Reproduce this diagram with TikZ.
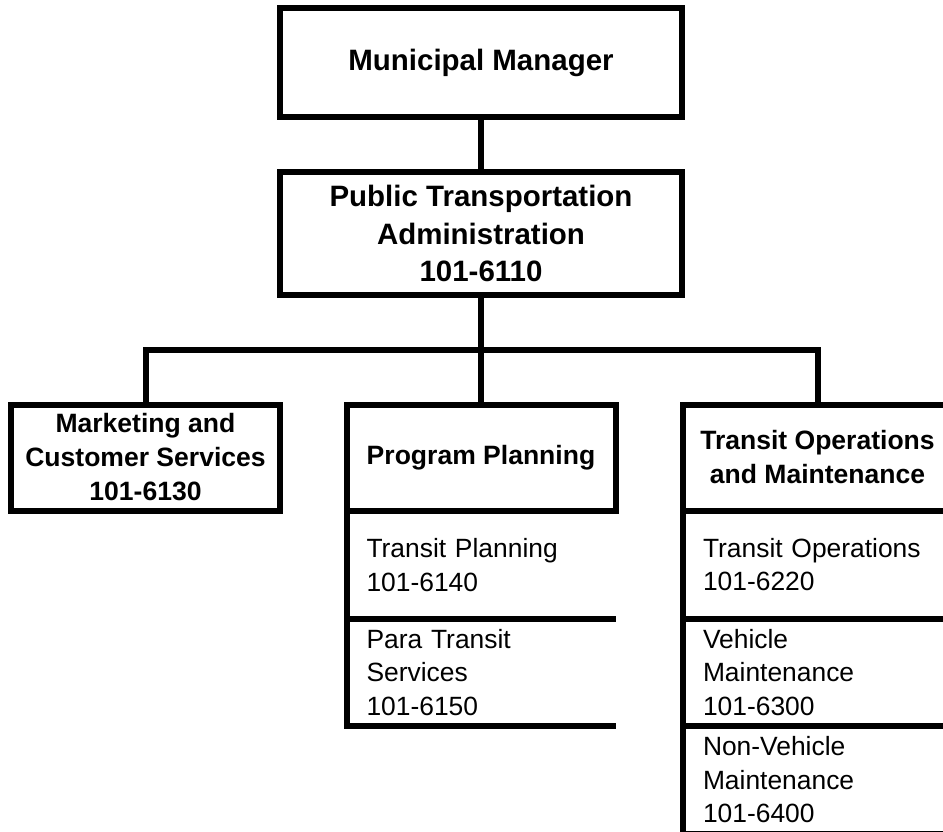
\documentclass[tikz,border=0pt]{standalone}
\usepackage{fontspec}
\setmainfont{Liberation Sans}

\tikzset{
  rule/.style={black, line width=4.5pt},
  topbox/.style={rule, draw, align=center, inner sep=0pt,
    font=\bfseries\fontsize{22.1}{28}\selectfont,
    minimum width=301.5pt},
  headbox/.style={rule, draw, align=center, inner sep=0pt,
    font=\bfseries\fontsize{19.9}{25.5}\selectfont,
    minimum width=201.75pt, minimum height=79.5pt},
  subbox/.style={outer sep=0pt, inner xsep=15pt, inner ysep=0pt,
    text width=171.75pt, align=left,
    font=\fontsize{19.8}{25.2}\selectfont}
}

\begin{document}
\begin{tikzpicture}[x=0.75pt, y=-0.75pt]
\useasboundingbox (0,0) rectangle (943,832);
% top of the chart
\node[topbox, minimum height=81.75pt] (mm) at (481,62.5) {Municipal Manager};
\node[topbox, minimum height=92.25pt] (pta) at (481,233.5) {Public Transportation\\Administration\\101-6110};
% divisions
\node[headbox] (mkt) at (145.5,457.5) {Marketing and\\Customer Services\\101-6130};
\node[headbox] (pp) at (481,457.5) {Program Planning};
\node[headbox] (tom) at (817.5,457.5) {Transit Operations\\and Maintenance};
% sections under Program Planning
\node[subbox, minimum height=81pt] (tp) at (481,565) {Transit Planning\\101-6140};
\node[subbox, minimum height=80.25pt] (pts) at (481,672.5) {Para Transit\\Services\\101-6150};
% sections under Transit Operations and Maintenance
\node[subbox, minimum height=81.75pt] (to) at (817.5,564.5) {Transit Operations\\101-6220};
\node[subbox, minimum height=80.25pt] (vm) at (817.5,672.5) {Vehicle\\Maintenance\\101-6300};
\node[subbox, minimum height=80.625pt] (nvm) at (817.5,779.75) {Non-Vehicle\\Maintenance\\101-6400};
\foreach \s in {tp,pts,to,vm,nvm}
  \draw[rule] (\s.north west) |- (\s.south east);
% connectors
\coordinate (bar) at (481,350);
\draw[rule] (mm.south) -- (pta.north);
\draw[rule] (pta.south) -- (bar);
\draw[rule] (mkt.north) |- (bar) -| (tom.north);
\draw[rule] (bar) -- (pp.north);
\end{tikzpicture}
\end{document}
